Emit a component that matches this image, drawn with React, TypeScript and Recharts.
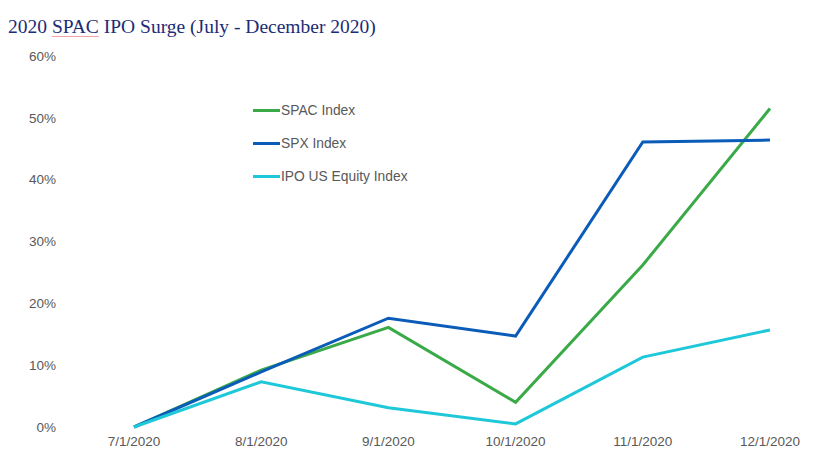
import { LineChart, Line, XAxis, YAxis, Legend } from 'recharts';

const dates = ['7/1/2020', '8/1/2020', '9/1/2020', '10/1/2020', '11/1/2020', '12/1/2020'];
const spacIndex = [0, 9.2, 16.1, 4.0, 26.2, 51.5];
const spxIndex = [0, 8.9, 17.6, 14.7, 46.1, 46.4];
const ipoIndex = [0, 7.3, 3.1, 0.5, 11.3, 15.7];
const yTicks = [0, 10, 20, 30, 40, 50, 60];

const SERIES = [
  { key: 'spac', name: 'SPAC Index', color: '#3aaa48' },
  { key: 'spx', name: 'SPX Index', color: '#0b5cb8' },
  { key: 'ipo', name: 'IPO US Equity Index', color: '#1fc8d9' },
];

const chartData = dates.map((date, i) => ({
  date,
  spac: spacIndex[i],
  spx: spxIndex[i],
  ipo: ipoIndex[i],
}));

function LegendBox() {
  return (
    <div style={{ display: 'flex', flexDirection: 'column', gap: 16 }}>
      {SERIES.map((s) => (
        <div key={s.key} style={{ display: 'flex', alignItems: 'center', height: 17 }}>
          <span style={{ display: 'inline-block', width: 27, height: 3, background: s.color }} />
          <span style={{ fontFamily: '"Liberation Sans", Arial, sans-serif', fontSize: 13.8, color: '#595959', marginLeft: 1 }}>
            {s.name}
          </span>
        </div>
      ))}
    </div>
  );
}

export default function App() {
  return (
    <div style={{ position: 'absolute', left: 0, top: 0, width: 833, height: 476, background: '#fff' }}>
      <div
        style={{
          position: 'absolute',
          left: 8,
          top: 16,
          fontFamily: '"Liberation Serif", "DejaVu Serif", serif',
          fontSize: 19.5,
          color: '#1c2c76',
          whiteSpace: 'nowrap',
        }}
      >
        2020{' '}
        <span style={{ textDecoration: 'underline', textDecorationColor: '#f4a0a8', textUnderlineOffset: 3 }}>SPAC</span>{' '}
        IPO Surge (July - December 2020)
      </div>
      <LineChart
        width={833}
        height={476}
        data={chartData}
        margin={{ top: 56, right: 63, bottom: 19, left: 0 }}
      >
        <XAxis
          dataKey="date"
          axisLine={false}
          tickLine={false}
          tickSize={0}
          tickMargin={9}
          height={30}
          padding={{ left: 76, right: 0 }}
          interval={0}
          tick={{ fill: '#595959', fontSize: 13.5, fontFamily: '"Liberation Sans", Arial, sans-serif' }}
        />
        <YAxis
          domain={[0, 60]}
          ticks={yTicks}
          axisLine={false}
          tickLine={false}
          tickSize={0}
          tickMargin={2}
          width={58}
          tickFormatter={(v) => `${v}%`}
          tick={{ fill: '#595959', fontSize: 13.5, fontFamily: '"Liberation Sans", Arial, sans-serif' }}
        />
        <Legend
          layout="vertical"
          align="center"
          verticalAlign="middle"
          content={<LegendBox />}
          wrapperStyle={{ position: 'absolute', left: 253, top: 102, width: 'auto' }}
        />
        {SERIES.map((s) => (
          <Line
            key={s.key}
            type="linear"
            dataKey={s.key}
            name={s.name}
            stroke={s.color}
            strokeWidth={3}
            dot={false}
            isAnimationActive={false}
          />
        ))}
      </LineChart>
    </div>
  );
}
